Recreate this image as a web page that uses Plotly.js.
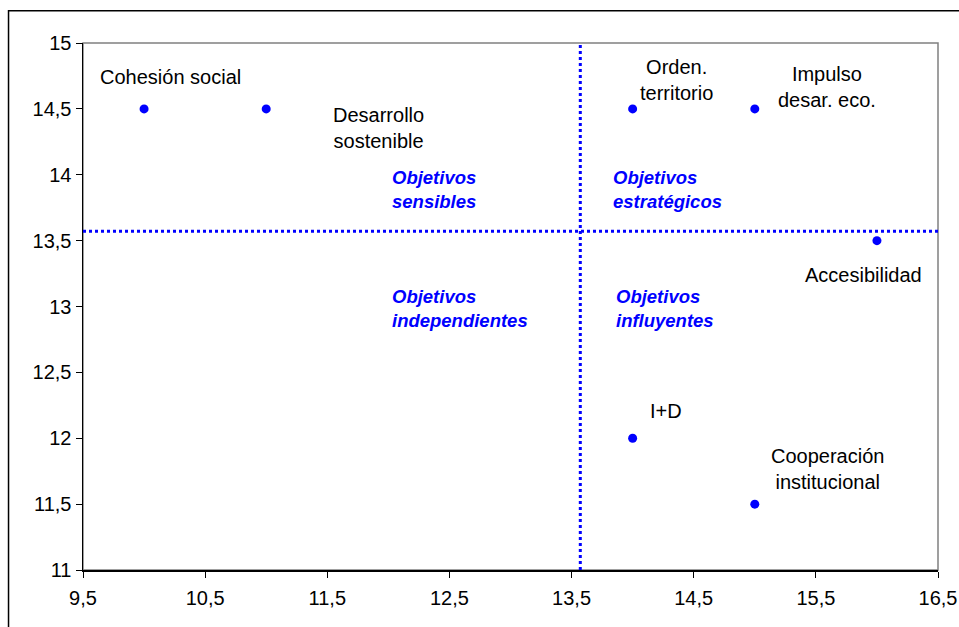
<!DOCTYPE html>
<html>
<head>
<meta charset="utf-8">
<script src="https://cdn.plot.ly/plotly-3.0.1.min.js"></script>
<style>html,body{margin:0;padding:0;background:#fff;}#chart{width:959px;height:627px;}</style>
</head>
<body>
<div id="chart"></div>
<script>
// Data
const objetivos = ["Cohesión social", "Desarrollo<br>sostenible", "Orden.<br>territorio", "Impulso<br>desar. eco.", "Accesibilidad", "I+D", "Cooperación<br>institucional"];
const xValues = [10, 11, 14, 15, 16, 14, 15];
const yValues = [14.5, 14.5, 14.5, 14.5, 13.5, 12, 11.5];
const quadrantLabels = ["Objetivos<br>sensibles", "Objetivos<br>estratégicos", "Objetivos<br>independientes", "Objetivos<br>influyentes"];
const xTickVals = [9.5, 10.5, 11.5, 12.5, 13.5, 14.5, 15.5, 16.5];
const yTickVals = [11, 11.5, 12, 12.5, 13, 13.5, 14, 14.5, 15];

// label offsets in pixels (style)
const labelShift = [[26, 32], [112, -19], [44, 29], [72, 22], [-13, -34], [33, 27], [73, 35]];
const quadPos = [[0.359, 0.722], [0.617, 0.722], [0.359, 0.497], [0.621, 0.497]];

const mean = a => a.reduce((s, v) => s + v, 0) / a.length;
const xMean = mean(xValues), yMean = mean(yValues);

const font = "Arial, 'Liberation Sans', sans-serif";

const annotations = objetivos.map((t, i) => ({
  x: xValues[i], y: yValues[i], xref: 'x', yref: 'y', text: t, showarrow: false,
  xshift: labelShift[i][0], yshift: labelShift[i][1], align: 'center',
  font: {family: font, size: 20, color: '#000'}
})).concat(quadrantLabels.map((t, i) => ({
  x: quadPos[i][0], y: quadPos[i][1], xref: 'paper', yref: 'paper', text: '<b><i>' + t + '</i></b>',
  showarrow: false, xanchor: 'left', yanchor: 'middle', align: 'left',
  font: {family: font, size: 18.5, color: '#0000FF'}
})));

const trace = {
  x: xValues, y: yValues, mode: 'markers', type: 'scatter',
  marker: {color: '#0000FF', size: 9}, hoverinfo: 'x+y', showlegend: false
};

const layout = {
  width: 959, height: 627,
  margin: {l: 83, r: 21, t: 43, b: 57},
  paper_bgcolor: '#fff', plot_bgcolor: '#fff',
  separators: ',.',
  font: {family: font, size: 20, color: '#000'},
  xaxis: {
    range: [9.5, 16.5], tickvals: xTickVals, showgrid: false, zeroline: false,
    showline: true, linecolor: '#000', linewidth: 1.5, ticks: 'outside', ticklen: 6, tickcolor: '#000',
    ticklabelstandoff: 3,
    tickfont: {family: font, size: 20, color: '#000'}
  },
  yaxis: {
    range: [11, 15], tickvals: yTickVals, showgrid: false, zeroline: false,
    showline: true, linecolor: '#000', linewidth: 1.5, ticks: 'outside', ticklen: 6, tickcolor: '#000',
    ticklabelstandoff: 0,
    tickfont: {family: font, size: 20, color: '#000'}
  },
  shapes: [
    {type: 'rect', xref: 'paper', yref: 'paper', x0: 0, x1: 1, y0: 0, y1: 1,
     line: {color: '#808080', width: 1.5}, layer: 'below'},
    {type: 'line', xref: 'x', yref: 'paper', x0: xMean, x1: xMean, y0: 0, y1: 1,
     line: {color: '#0000FF', width: 3, dash: 'dot'}},
    {type: 'line', xref: 'paper', yref: 'y', x0: 0, x1: 1, y0: yMean, y1: yMean,
     line: {color: '#0000FF', width: 3, dash: 'dot'}},
    {type: 'rect', xref: 'paper', yref: 'paper', x0: -0.0871, x1: 1.3, y0: -0.3, y1: 1.0613,
     line: {color: '#000', width: 1.5}}
  ],
  annotations: annotations
};

Plotly.newPlot('chart', [trace], layout, {displayModeBar: false, staticPlot: true});
</script>
</body>
</html>
